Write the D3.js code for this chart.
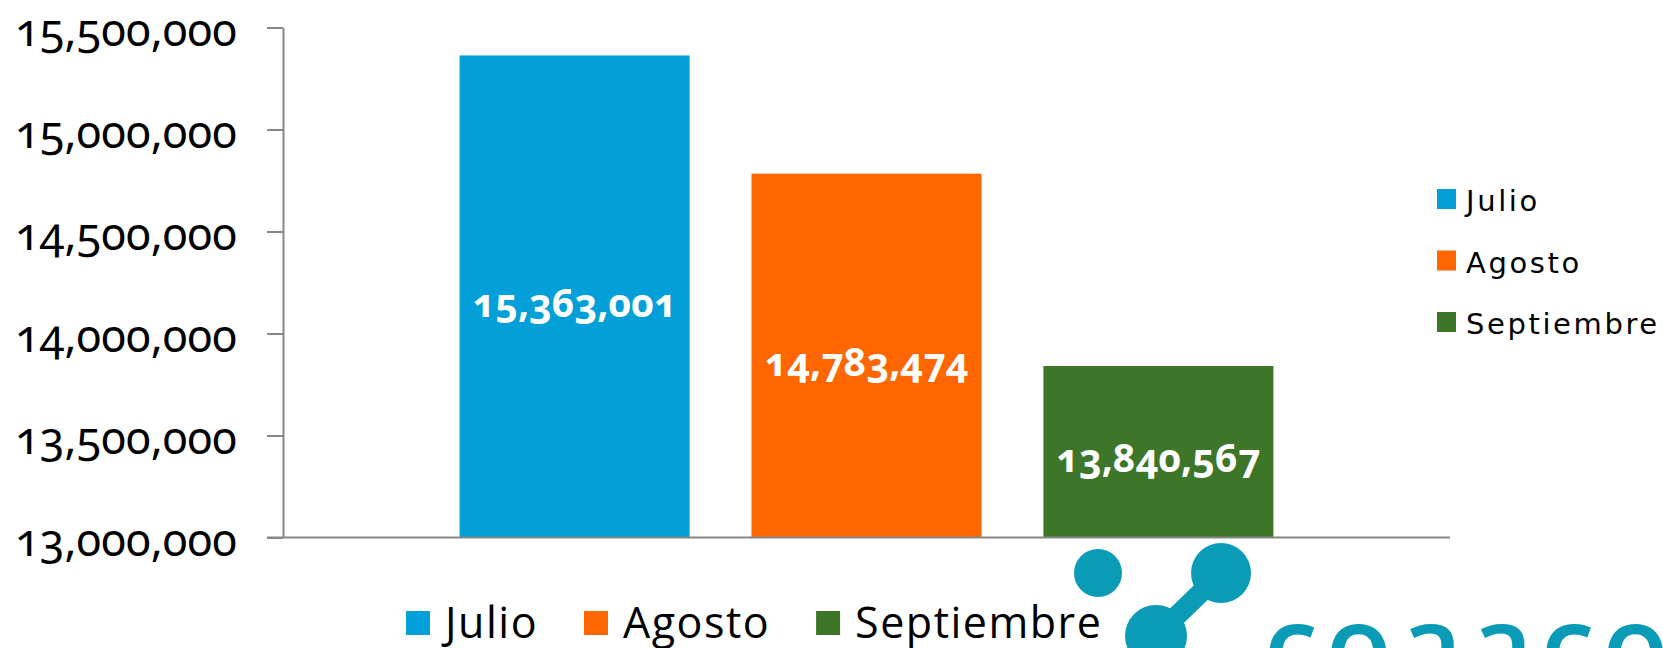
<!DOCTYPE html>
<html>
<head>
<meta charset="utf-8">
<script src="https://cdn.jsdelivr.net/npm/d3@7"></script>
<style>
  body { margin: 0; background: #fff; }
  svg { display: block; }
  .num { font-family: "Noto Sans", "Open Sans", sans-serif; font-variant-numeric: oldstyle-nums; }
</style>
</head>
<body>
<div id="chart"></div>
<script>
var series = ["Julio", "Agosto", "Septiembre"];
var values = [15363001, 14783474, 13840567];
var colors = ["#039fd9", "#ff6600", "#3d7529"];
var yTicks = [13000000, 13500000, 14000000, 14500000, 15000000, 15500000];

var W = 1663, H = 648;
var plot = { left: 283, right: 1450, top: 27.5, bottom: 537.5 };

var svg = d3.select("#chart").append("svg")
    .attr("width", W)
    .attr("height", H);

svg.append("rect").attr("width", W).attr("height", H).attr("fill", "#fff");

var y = d3.scaleLinear()
    .domain([13000000, 15500000])
    .range([plot.bottom, plot.top]);

var x = d3.scaleBand()
    .domain(series)
    .range([plot.left, plot.right])
    .paddingInner(0.212)
    .paddingOuter(0.605);

var color = d3.scaleOrdinal().domain(series).range(colors);

// y axis
var yAxis = d3.axisLeft(y)
    .tickValues(yTicks)
    .tickFormat(d3.format(","))
    .tickSize(16)
    .tickSizeOuter(0)
    .tickPadding(30);

var gy = svg.append("g")
    .attr("transform", "translate(" + plot.left + ",0)")
    .call(yAxis);

gy.selectAll("path, line").attr("stroke", "#868686").attr("stroke-width", 2);
gy.selectAll("text")
    .attr("class", "num")
    .attr("fill", "#000")
    .attr("font-size", 45)
    .attr("letter-spacing", 0.1)
    .attr("dy", "0.4em");

// bars
var bars = svg.selectAll("g.bar")
    .data(series.map(function (s, i) { return { name: s, value: values[i] }; }))
    .enter()
    .append("g")
    .attr("class", "bar");

bars.append("rect")
    .attr("x", function (d) { return x(d.name); })
    .attr("y", function (d) { return y(d.value); })
    .attr("width", x.bandwidth())
    .attr("height", function (d) { return plot.bottom - y(d.value); })
    .attr("fill", function (d) { return color(d.name); });

bars.append("text")
    .attr("class", "num")
    .attr("x", function (d) { return x(d.name) + x.bandwidth() / 2; })
    .attr("y", function (d) { return (y(d.value) + plot.bottom) / 2 + 7; })
    .attr("dy", "0.35em")
    .attr("text-anchor", "middle")
    .attr("font-size", 39)
    .attr("font-weight", "bold")
    .attr("fill", "#fff")
    .text(function (d) { return d3.format(",")(d.value); });

// x baseline
svg.append("line")
    .attr("x1", plot.left - 16).attr("x2", plot.right)
    .attr("y1", y(13000000)).attr("y2", y(13000000))
    .attr("stroke", "#868686")
    .attr("stroke-width", 2);

// right legend
var rl = svg.append("g").attr("transform", "translate(1437,189)");
var rItems = rl.selectAll("g")
    .data(series)
    .enter()
    .append("g")
    .attr("transform", function (d, i) { return "translate(0," + (i * 61.5) + ")"; });

rItems.append("rect")
    .attr("width", 19).attr("height", 20)
    .attr("fill", function (d) { return color(d); });

rItems.append("text")
    .attr("x", 29)
    .attr("y", 22)
    .attr("font-family", "DejaVu Sans, sans-serif")
    .attr("font-size", 29)
    .attr("letter-spacing", 2.6)
    .attr("fill", "#000")
    .text(function (d) { return d; });

// logo (watermark)
var teal = "#0a9bb6";
var logo = svg.append("g").attr("fill", teal);
logo.append("line")
    .attr("x1", 1221).attr("y1", 573).attr("x2", 1156).attr("y2", 636)
    .attr("stroke", teal).attr("stroke-width", 20);
logo.append("circle").attr("cx", 1098).attr("cy", 573).attr("r", 24);
logo.append("circle").attr("cx", 1221).attr("cy", 573).attr("r", 30);
logo.append("circle").attr("cx", 1156).attr("cy", 636).attr("r", 31);
logo.append("text")
    .attr("x", 1264)
    .attr("y", 684)
    .attr("font-family", "Open Sans, sans-serif")
    .attr("font-weight", 600)
    .attr("font-size", 108)
    .attr("letter-spacing", 8)
    .text("coaaco");

// bottom legend
var bl = svg.append("g").attr("transform", "translate(406,0)");
var cx = 0;
series.forEach(function (s) {
    var g = bl.append("g").attr("transform", "translate(" + cx + ",0)");
    g.append("rect")
        .attr("y", 611)
        .attr("width", 24).attr("height", 24)
        .attr("fill", color(s));
    var t = g.append("text")
        .attr("x", 39)
        .attr("y", 638)
        .attr("font-family", "Open Sans, sans-serif")
        .attr("font-size", 43)
        .attr("letter-spacing", 1.5)
        .attr("fill", "#000")
        .text(s);
    cx += 39 + t.node().getComputedTextLength() + 46;
});
</script>
</body>
</html>
